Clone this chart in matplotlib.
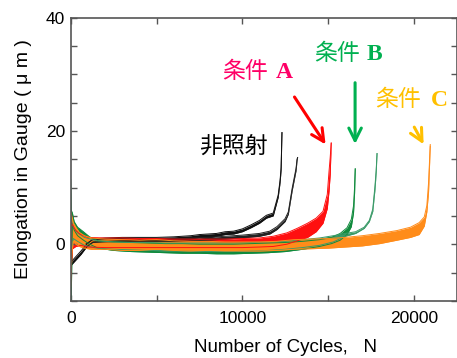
import numpy as np
import matplotlib
matplotlib.use("Agg")
import matplotlib.pyplot as plt
from matplotlib.ticker import MultipleLocator

plt.rcParams['font.family'] = ['Liberation Sans', 'Noto Sans CJK JP']

# ---- data: x = cycles, lo/hi = extent of the noisy trace (um)
blk1_x = [0, 300, 600, 900, 1300, 2000, 3000, 4000, 5000, 6000, 7000, 7500, 8000, 8500, 9000, 9500,
          10000, 10500, 11000, 11400, 11800, 12090, 12200, 12260, 12310]
blk1_lo = [-3.8, -2.8, -1.8, -0.6, 0.4, 0.5, 0.6, 0.7, 0.6, 0.7, 0.9, 1.2, 1.1, 1.4, 1.7, 1.8,
           2.2, 2.9, 3.7, 4.6, 5.0, 8.3, 10.9, 13.1, 19.7]
blk1_hi = [-3.2, -2.2, -1.2, -0.1, 0.9, 1.1, 1.2, 1.2, 1.2, 1.3, 1.5, 1.7, 1.8, 1.9, 2.2, 2.3,
           2.7, 3.4, 4.2, 5.1, 5.5, 8.7, 11.3, 13.5, 19.7]

blk2_x = [900, 1300, 2000, 3000, 4000, 5000, 6000, 7000, 8000, 9000, 10000, 11000, 11600, 12020,
          12490, 12680, 12900, 13130, 13190, 13220]
blk2_lo = [-0.4, 0.3, 0.4, 0.5, 0.5, 0.5, 0.5, 0.6, 0.7, 0.9, 1.1, 1.4, 1.8, 2.6, 4.0, 5.3, 9.4, 13.0, 14.8, 15.3]
blk2_hi = [0.1, 0.8, 0.9, 1.0, 1.0, 1.0, 1.0, 1.1, 1.2, 1.4, 1.6, 1.9, 2.3, 3.1, 4.5, 5.7, 9.8, 13.4, 15.0, 15.3]

grn1_x = [0, 30, 100, 200, 400, 700, 1100, 1600, 2500, 3500, 4500, 5500, 6500, 7500, 8500, 9500,
          10500, 11500, 12500, 13500, 14500, 15200, 15700, 16100, 16350, 16480, 16540, 16580]
grn1_lo = [-10, -10, 3.5, 2.5, 1.5, 0.8, 0.0, -0.7, -1.1, -1.3, -1.4, -1.5, -1.6, -1.6, -1.7, -1.7,
           -1.6, -1.5, -1.3, -0.9, -0.4, 0.1, 0.7, 1.7, 3.1, 5.6, 9.0, 13.3]
grn1_hi = [11.4, 6.0, 5.5, 4.0, 3.0, 2.3, 1.3, 0.6, 0.4, 0.3, 0.2, 0.1, 0.1, 0.0, 0.0, 0.0,
           0.1, 0.2, 0.3, 0.5, 0.8, 1.2, 1.9, 2.9, 4.4, 6.8, 10.0, 13.3]

grn2_x = [0, 150, 400, 800, 1500, 2500, 3500, 4500, 5500, 6500, 7500, 8500, 9500, 10500, 11500,
          12500, 13500, 14500, 15300, 16000, 16600, 17100, 17400, 17600, 17730, 17800, 17850]
grn2_lo = [-3.0, 1.0, 0.5, -0.2, -0.7, -0.9, -1.0, -1.1, -1.2, -1.2, -1.3, -1.3, -1.3, -1.2, -1.1,
           -0.9, -0.6, -0.2, 0.4, 1.4, 1.9, 2.8, 4.0, 5.8, 9.7, 12.7, 16.0]
grn2_hi = [5.0, 3.0, 2.0, 1.2, 0.6, 0.4, 0.3, 0.3, 0.2, 0.2, 0.2, 0.2, 0.2, 0.3, 0.4,
           0.5, 0.8, 1.1, 1.5, 1.9, 2.2, 3.0, 4.2, 6.2, 10.3, 13.1, 16.0]

red_x = [0, 100, 300, 600, 1000, 2000, 3000, 4000, 5000, 6000, 7000, 8000, 9000, 10000, 11000,
         11800, 12600, 13200, 13800, 14300, 14700, 14950, 15050, 15120, 15180]
red_lo = [-6.0, -0.8, -0.4, -0.2, -0.5, -0.6, -0.6, -0.6, -0.6, -0.6, -0.6, -0.6, -0.6, -0.6, -0.5,
          -0.4, 0.0, 0.6, 1.2, 2.2, 3.7, 6.3, 9.3, 12.3, 17.8]
red_hi = [4.0, 3.4, 2.4, 1.7, 1.2, 1.1, 1.1, 1.0, 1.0, 0.9, 0.9, 0.9, 0.9, 1.0, 1.1,
          1.4, 2.0, 2.8, 3.7, 4.6, 5.8, 8.8, 12.8, 15.3, 17.9]

org_x = [0, 60, 150, 300, 500, 800, 1200, 2000, 3000, 4000, 5000, 6000, 7000, 8000, 9000, 10000,
         11000, 12000, 13000, 14000, 15000, 16000, 17000, 18000, 19000, 19800, 20300, 20600, 20750,
         20850, 20950]
org_lo = [-7.5, -2.0, 0.5, 0.0, -0.4, -0.7, -0.9, -0.9, -1.1, -1.1, -0.9, -1.1, -1.2, -1.1, -1.2, -1.2,
          -1.2, -1.1, -0.9, -0.8, -0.7, -0.5, -0.3, 0.1, 0.7, 1.2, 1.7, 3.2, 5.7, 9.2, 17.3]
org_hi = [5.8, 5.0, 3.8, 3.0, 2.1, 1.5, 1.1, 0.9, 0.8, 0.7, 0.8, 0.6, 0.5, 0.5, 0.4, 0.4,
          0.4, 0.5, 0.8, 0.9, 1.0, 1.2, 1.5, 1.9, 2.4, 3.0, 3.8, 4.8, 6.8, 10.8, 17.6]

x_ticks = [0, 10000, 20000]
y_ticks = [0, 20, 40]

series = [
    (blk1_x, blk1_lo, blk1_hi, '#111111', 0.7),
    (blk2_x, blk2_lo, blk2_hi, '#222222', 0.7),
    (grn1_x, grn1_lo, grn1_hi, '#0f8a3c', 0.7),
    (grn2_x, grn2_lo, grn2_hi, '#3a9a68', 0.7),
    (red_x, red_lo, red_hi, '#ff1010', 0.7),
    (org_x, org_lo, org_hi, '#ff8c1a', 0.7),
]

fig = plt.figure(figsize=(4.57, 3.58), dpi=100)
ax = fig.add_axes([0.1547, 0.1597, 0.845, 0.791])

for xs, lo, hi, c, lw in series:
    ax.fill_between(xs, lo, hi, color=c, lw=0)
    ax.plot(xs, lo, color=c, lw=lw)
    ax.plot(xs, hi, color=c, lw=lw)

ax.set_xlim(0, 22500)
ax.set_ylim(-10, 40)
ax.set_xticks(x_ticks)
ax.set_yticks(y_ticks)
ax.xaxis.set_minor_locator(MultipleLocator(5000))
ax.yaxis.set_minor_locator(MultipleLocator(5))
ax.tick_params(which='both', direction='in', length=4, width=1, color='#555555',
               top=True, right=True, labelsize=12.5, pad=7)
ax.tick_params(axis='y', pad=4)
for s in ax.spines.values():
    s.set_color('#555555')
    s.set_linewidth(1.2)

ax.set_xlabel('Number of Cycles,   N', fontsize=13.5)
ax.set_ylabel('Elongation in Gauge ( \u03bc m )', fontsize=14)
ax.xaxis.set_label_coords(0.555, -0.135)
ax.yaxis.set_label_coords(-0.10, 0.5)

# annotations
cjk = ['Noto Sans CJK JP']
ser = ['Liberation Serif']
W, H = 457, 358
def ftxt(px, py, s, color, fam, weight='normal', size=16.5):
    fig.text(px / W, 1 - py / H, s, color=color, family=fam, fontweight=weight,
             fontsize=size, ha='left', va='center')

ftxt(199, 147, '非照射', 'black', cjk)
ftxt(222, 71, '条件', '#ff0066', cjk)
ftxt(276, 72, 'A', '#ff0066', ser, 'bold', 17)
ftxt(314, 54, '条件', '#00b050', cjk)
ftxt(367, 55, 'B', '#00b050', ser, 'bold', 17)
ftxt(375, 99, '条件', '#ffc000', cjk)
ftxt(431, 100, 'C', '#ffc000', ser, 'bold', 17)

arrow_kw = dict(arrowstyle='->,head_length=0.9,head_width=0.45', lw=2.2)
ax.annotate('', xy=(14940, 17.2), xytext=(12950, 26.4),
            arrowprops=dict(color='#ff0000', **arrow_kw))
ax.annotate('', xy=(16570, 17.2), xytext=(16570, 29.0),
            arrowprops=dict(color='#00b050', **arrow_kw))
ax.annotate('', xy=(20640, 17.2), xytext=(19940, 21.1),
            arrowprops=dict(color='#ffc000', **arrow_kw))

fig.savefig('out.png', dpi=100)
